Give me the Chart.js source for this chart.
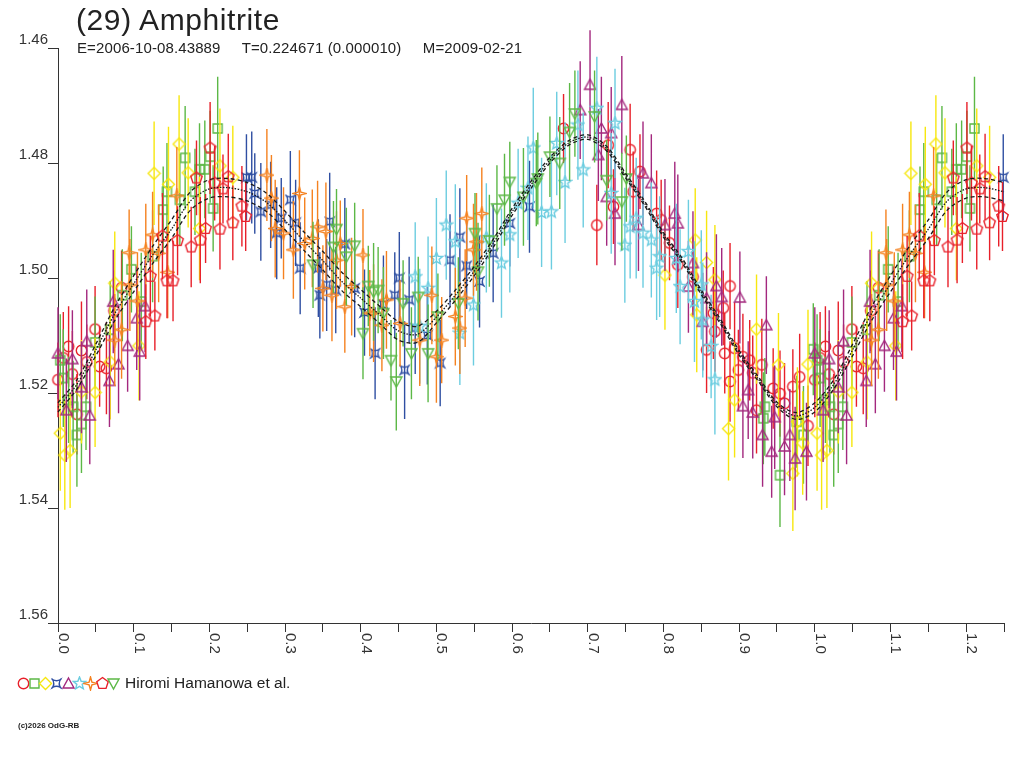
<!DOCTYPE html>
<html>
<head>
<meta charset="utf-8">
<title>(29) Amphitrite</title>
<script src="https://cdn.jsdelivr.net/npm/chart.js@4.4.1/dist/chart.umd.min.js"></script>
<style>
  body { margin: 0; background: #fff; }
  #wrap { position: relative; width: 1024px; height: 768px; overflow: hidden; font-family: "Liberation Sans", Arial, sans-serif; color: #222; }
  #chart { position: absolute; left: 0; top: 0; }
  #title { position: absolute; left: 76px; top: 3px; font-size: 30px; line-height: 34px; letter-spacing: 0.6px; white-space: nowrap; }
  #subtitle { position: absolute; left: 77px; top: 40px; font-size: 15px; line-height: 16px; letter-spacing: 0.12px; white-space: pre; }
  .icon { position: absolute; }
  #legendText { position: absolute; left: 125px; top: 674px; font-size: 15.5px; line-height: 18px; white-space: nowrap; }
  #copy { position: absolute; left: 18px; top: 721px; font-size: 8px; font-weight: bold; white-space: nowrap; }
</style>
</head>
<body>
<div id="wrap">
  <canvas id="chart" width="1024" height="768"></canvas>
  <div id="title">(29) Amphitrite</div>
  <div id="subtitle">E=2006-10-08.43889     T=0.224671 (0.000010)     M=2009-02-21</div>
  <div id="legendText">Hiromi Hamanowa et al.</div>
  <div id="copy">(c)2026 OdG-RB</div>
</div>
<script>
// --- Axes ---
const phaseTicks = [0, 0.05, 0.1, 0.15, 0.2, 0.25, 0.3, 0.35, 0.4, 0.45, 0.5, 0.55, 0.6,
                    0.65, 0.7, 0.75, 0.8, 0.85, 0.9, 0.95, 1.0, 1.05, 1.1, 1.15, 1.2, 1.25];
const phaseLabels = [0, 0.1, 0.2, 0.3, 0.4, 0.5, 0.6, 0.7, 0.8, 0.9, 1.0, 1.1, 1.2];
const magTicks = [1.46, 1.48, 1.50, 1.52, 1.54, 1.56];

// --- Fitted lightcurve (phase 0..1, repeated past 1.0) ---
const fitPhase = [0, 0.025, 0.05, 0.075, 0.1, 0.125, 0.15, 0.175, 0.2, 0.225, 0.25, 0.275, 0.3, 0.325,
                  0.35, 0.375, 0.4, 0.425, 0.45, 0.475, 0.5, 0.525, 0.55, 0.575, 0.6, 0.625, 0.65, 0.675,
                  0.7, 0.725, 0.75, 0.775, 0.8, 0.825, 0.85, 0.875, 0.9, 0.925, 0.95, 0.975];
const fitMag = [1.5225, 1.5185, 1.5125, 1.5062, 1.5010, 1.4960, 1.4915, 1.4866, 1.4845, 1.4843, 1.4850, 1.4868, 1.4900, 1.4936,
                1.4970, 1.5006, 1.5035, 1.5064, 1.5092, 1.5098, 1.5068, 1.5030, 1.4988, 1.4940, 1.4885, 1.4838, 1.4795, 1.4765,
                1.4755, 1.4775, 1.4822, 1.4870, 1.4925, 1.4970, 1.5025, 1.5075, 1.5130, 1.5175, 1.5220, 1.5240];
const fitUpper = [1.5217, 1.5177, 1.5115, 1.5050, 1.4996, 1.4945, 1.4899, 1.4850, 1.4829, 1.4827, 1.4834, 1.4852, 1.4884, 1.4920,
                  1.4954, 1.4990, 1.5020, 1.5049, 1.5076, 1.5084, 1.5058, 1.5021, 1.4980, 1.4933, 1.4879, 1.4832, 1.4790, 1.4761,
                  1.4751, 1.4771, 1.4818, 1.4866, 1.4921, 1.4966, 1.5021, 1.5071, 1.5126, 1.5171, 1.5216, 1.5234];
const fitLower = [1.5233, 1.5193, 1.5135, 1.5074, 1.5024, 1.4975, 1.4931, 1.4882, 1.4861, 1.4859, 1.4866, 1.4884, 1.4916, 1.4952,
                  1.4986, 1.5022, 1.5050, 1.5079, 1.5108, 1.5112, 1.5078, 1.5039, 1.4996, 1.4947, 1.4891, 1.4844, 1.4800, 1.4769,
                  1.4759, 1.4779, 1.4826, 1.4874, 1.4929, 1.4974, 1.5029, 1.5079, 1.5134, 1.5179, 1.5224, 1.5246];

// --- Observations: [phase, magnitude, error] per session ---
const redCircles = [
  [0.000,1.5177,0.0065],[0.007,1.5139,0.0080],[0.014,1.5119,0.0070],[0.019,1.5167,0.0075],[0.025,1.5237,0.0070],
  [0.031,1.5126,0.0085],[0.038,1.5146,0.0065],[0.049,1.5089,0.0075],[0.055,1.5154,0.0070],[0.064,1.5157,0.0080],
  [0.074,1.5057,0.0070],[0.084,1.5017,0.0065],[0.668,1.4740,0.0060],[0.712,1.4908,0.0070],[0.727,1.4769,0.0075],
  [0.734,1.4876,0.0065],[0.756,1.4777,0.0080],[0.760,1.4850,0.0070],[0.769,1.4815,0.0065],[0.791,1.4888,0.0075],
  [0.797,1.4899,0.0070],[0.808,1.4939,0.0065],[0.819,1.4977,0.0075],[0.839,1.4998,0.0070],[0.857,1.5125,0.0075],
  [0.866,1.5061,0.0080],[0.868,1.5093,0.0070],[0.879,1.5052,0.0065],[0.881,1.5131,0.0070],[0.888,1.5014,0.0075],
  [0.888,1.5180,0.0070],[0.894,1.5122,0.0080],[0.899,1.5160,0.0070],[0.905,1.5137,0.0075],[0.914,1.5143,0.0070],
  [0.918,1.5165,0.0065],[0.923,1.5230,0.0075],[0.930,1.5151,0.0080],[0.945,1.5192,0.0070],[0.954,1.5201,0.0075],
  [0.960,1.5218,0.0070],[0.971,1.5189,0.0065],[0.980,1.5172,0.0075],[0.991,1.5257,0.0070]
];
const greenSquares = [
  [0.003,1.5143,0.0080],[0.007,1.5174,0.0085],[0.014,1.5212,0.0075],[0.020,1.5224,0.0080],[0.025,1.5273,0.0090],
  [0.031,1.5254,0.0085],[0.037,1.5224,0.0075],[0.049,1.5112,0.0080],[0.069,1.5090,0.0085],[0.085,1.5030,0.0080],
  [0.097,1.4985,0.0075],[0.110,1.5041,0.0085],[0.125,1.4962,0.0080],[0.139,1.4881,0.0075],[0.144,1.4850,0.0085],
  [0.161,1.4864,0.0080],[0.168,1.4791,0.0090],[0.181,1.4850,0.0075],[0.187,1.4811,0.0080],[0.194,1.4811,0.0085],
  [0.201,1.4789,0.0080],[0.205,1.4879,0.0075],[0.211,1.4740,0.0090],[0.932,1.5244,0.0080],[0.934,1.5224,0.0085],
  [0.954,1.5343,0.0090],[0.976,1.5250,0.0080],[0.985,1.5273,0.0085],[0.998,1.5124,0.0080]
];
const yellowDiamonds = [
  [0.003,1.5270,0.0100],[0.009,1.5308,0.0095],[0.016,1.5300,0.0100],[0.031,1.5198,0.0090],[0.049,1.5199,0.0095],
  [0.069,1.5146,0.0100],[0.075,1.5009,0.0090],[0.107,1.5118,0.0095],[0.127,1.4818,0.0090],[0.146,1.4837,0.0100],
  [0.160,1.4767,0.0085],[0.172,1.4817,0.0095],[0.187,1.4914,0.0090],[0.214,1.4805,0.0100],[0.231,1.4825,0.0090],
  [0.802,1.4995,0.0095],[0.842,1.4934,0.0090],[0.844,1.5064,0.0100],[0.857,1.4973,0.0090],[0.868,1.5003,0.0095],
  [0.886,1.5262,0.0090],[0.894,1.5212,0.0100],[0.923,1.5089,0.0095],[0.952,1.5151,0.0090],[0.971,1.5340,0.0100],
  [0.977,1.5250,0.0095],[0.984,1.5287,0.0090],[0.991,1.5150,0.0095]
];
const blueBowties = [
  [0.249,1.4825,0.0075],[0.256,1.4825,0.0080],[0.260,1.4853,0.0070],[0.268,1.4885,0.0085],[0.281,1.4873,0.0075],
  [0.289,1.4922,0.0080],[0.295,1.4896,0.0070],[0.307,1.4864,0.0085],[0.314,1.4904,0.0075],[0.320,1.4983,0.0080],
  [0.344,1.4983,0.0085],[0.346,1.5030,0.0075],[0.355,1.5012,0.0080],[0.359,1.4902,0.0085],[0.367,1.5021,0.0075],
  [0.379,1.4941,0.0080],[0.392,1.5018,0.0085],[0.405,1.5060,0.0075],[0.419,1.5131,0.0080],[0.430,1.5046,0.0085],
  [0.445,1.5030,0.0075],[0.451,1.5000,0.0080],[0.458,1.5160,0.0085],[0.464,1.5038,0.0075],[0.472,1.5087,0.0080],
  [0.488,1.5100,0.0085],[0.505,1.5148,0.0075],[0.518,1.4969,0.0080],[0.531,1.4929,0.0085],[0.540,1.4979,0.0075],
  [0.557,1.5006,0.0080],[0.575,1.4957,0.0085],[0.597,1.4905,0.0075],[0.623,1.4876,0.0080]
];
const magentaTriangles = [
  [0.000,1.5131,0.0080],[0.011,1.5230,0.0090],[0.019,1.5141,0.0085],[0.031,1.5190,0.0080],[0.038,1.5110,0.0090],
  [0.042,1.5239,0.0085],[0.068,1.5179,0.0080],[0.073,1.5041,0.0090],[0.080,1.5150,0.0085],[0.092,1.5118,0.0080],
  [0.104,1.5070,0.0090],[0.108,1.5128,0.0085],[0.115,1.5049,0.0080],[0.690,1.4708,0.0085],[0.703,1.4664,0.0095],
  [0.714,1.4786,0.0080],[0.718,1.4740,0.0090],[0.725,1.4859,0.0085],[0.731,1.4748,0.0080],[0.736,1.4888,0.0090],
  [0.745,1.4699,0.0085],[0.767,1.4908,0.0080],[0.773,1.4818,0.0090],[0.784,1.4835,0.0085],[0.802,1.4908,0.0080],
  [0.815,1.4888,0.0090],[0.819,1.4905,0.0085],[0.833,1.5015,0.0080],[0.839,1.4974,0.0090],[0.852,1.5076,0.0085],
  [0.857,1.5035,0.0080],[0.870,1.5014,0.0090],[0.877,1.5033,0.0085],[0.901,1.5034,0.0080],[0.905,1.5223,0.0090],
  [0.912,1.5195,0.0085],[0.918,1.5234,0.0080],[0.931,1.5273,0.0090],[0.936,1.5082,0.0085],[0.943,1.5302,0.0080],
  [0.947,1.5242,0.0090],[0.960,1.5293,0.0085],[0.967,1.5273,0.0080],[0.974,1.5314,0.0090],[0.989,1.5302,0.0085]
];
const cyanStars = [
  [0.472,1.4998,0.0095],[0.478,1.5084,0.0100],[0.489,1.5018,0.0090],[0.500,1.4966,0.0105],[0.513,1.4908,0.0095],
  [0.525,1.4937,0.0100],[0.531,1.5096,0.0090],[0.549,1.5047,0.0105],[0.566,1.4930,0.0095],[0.586,1.4974,0.0095],
  [0.597,1.4925,0.0100],[0.608,1.4870,0.0095],[0.621,1.4844,0.0090],[0.628,1.4774,0.0105],[0.639,1.4886,0.0095],
  [0.652,1.4885,0.0100],[0.659,1.4766,0.0090],[0.670,1.4834,0.0105],[0.687,1.4734,0.0095],[0.694,1.4812,0.0100],
  [0.712,1.4705,0.0090],[0.731,1.4853,0.0105],[0.736,1.4731,0.0095],[0.749,1.4943,0.0100],[0.756,1.4911,0.0090],
  [0.764,1.4896,0.0105],[0.773,1.4922,0.0095],[0.784,1.4934,0.0100],[0.791,1.4983,0.0090],[0.795,1.4963,0.0105],
  [0.817,1.4966,0.0095],[0.822,1.5015,0.0100],[0.833,1.4954,0.0090],[0.841,1.5041,0.0105],[0.850,1.5012,0.0095],
  [0.852,1.5073,0.0100],[0.863,1.5119,0.0090],[0.868,1.5177,0.0095]
];
const orangeStars = [
  [0.075,1.5108,0.0080],[0.084,1.5090,0.0085],[0.094,1.4956,0.0075],[0.095,1.5012,0.0080],[0.105,1.5040,0.0085],
  [0.116,1.4951,0.0080],[0.125,1.4925,0.0075],[0.133,1.4957,0.0085],[0.145,1.4990,0.0080],[0.157,1.4857,0.0085],
  [0.276,1.4821,0.0080],[0.282,1.4861,0.0075],[0.287,1.4914,0.0085],[0.298,1.4922,0.0080],[0.311,1.4951,0.0085],
  [0.319,1.4853,0.0075],[0.326,1.4940,0.0080],[0.336,1.4931,0.0085],[0.343,1.4911,0.0080],[0.350,1.5018,0.0075],
  [0.354,1.4919,0.0085],[0.362,1.5030,0.0080],[0.368,1.4969,0.0085],[0.373,1.4940,0.0075],[0.379,1.5050,0.0080],
  [0.388,1.5015,0.0085],[0.403,1.4960,0.0080],[0.412,1.5061,0.0075],[0.417,1.5061,0.0085],[0.428,1.5082,0.0080],
  [0.434,1.5038,0.0085],[0.452,1.5079,0.0075],[0.478,1.5108,0.0080],[0.494,1.5030,0.0085],[0.500,1.5137,0.0080],
  [0.507,1.5108,0.0075],[0.525,1.5067,0.0085],[0.531,1.5087,0.0080],[0.538,1.5035,0.0085],[0.540,1.4896,0.0075],
  [0.549,1.4951,0.0080],[0.553,1.4937,0.0085],[0.560,1.4888,0.0080]
];
const redPentagons = [
  [0.116,1.5076,0.0065],[0.122,1.4997,0.0070],[0.128,1.5066,0.0060],[0.138,1.4927,0.0075],[0.144,1.5005,0.0065],
  [0.152,1.5005,0.0070],[0.158,1.4935,0.0060],[0.176,1.4946,0.0070],[0.183,1.4826,0.0065],[0.188,1.4934,0.0075],
  [0.195,1.4914,0.0060],[0.201,1.4774,0.0080],[0.207,1.4835,0.0065],[0.214,1.4915,0.0070],[0.218,1.4845,0.0060],
  [0.225,1.4824,0.0075],[0.231,1.4904,0.0065],[0.243,1.4875,0.0070],[0.248,1.4893,0.0060]
];
const greenTriangles = [
  [0.337,1.4977,0.0075],[0.364,1.4946,0.0080],[0.368,1.4915,0.0070],[0.381,1.4963,0.0085],[0.392,1.4944,0.0075],
  [0.403,1.5096,0.0080],[0.410,1.5014,0.0070],[0.417,1.5024,0.0085],[0.423,1.5021,0.0075],[0.430,1.5061,0.0080],
  [0.440,1.5143,0.0070],[0.447,1.5180,0.0085],[0.456,1.5044,0.0075],[0.467,1.5131,0.0080],[0.476,1.5033,0.0070],
  [0.489,1.5131,0.0085],[0.502,1.5067,0.0075],[0.529,1.5044,0.0080],[0.551,1.4922,0.0070],[0.555,1.4989,0.0085],
  [0.570,1.4935,0.0080],[0.580,1.4879,0.0075],[0.590,1.4864,0.0080],[0.597,1.4833,0.0070],[0.615,1.4859,0.0085],
  [0.632,1.4835,0.0075],[0.634,1.4827,0.0080],[0.650,1.4789,0.0070],[0.663,1.4800,0.0080],[0.676,1.4746,0.0085],
  [0.683,1.4714,0.0075],[0.709,1.4719,0.0080],[0.725,1.4830,0.0070],[0.745,1.4867,0.0085],[0.751,1.4827,0.0075]
];

const sessions = [redCircles, greenSquares, yellowDiamonds, blueBowties, magentaTriangles,
                  cyanStars, orangeStars, redPentagons, greenTriangles];
const sessionColors = ['#e8202a', '#5cb846', '#f7e70f', '#2f4fa2', '#a3287e',
                       '#6ccde0', '#f58220', '#e8202a', '#5cb846'];
const sessionShapes = ['circle', 'square', 'diamond', 'bowtie', 'triangle',
                       'star', 'star4', 'pentagon', 'invtriangle'];

// --- Marker images (hollow symbols) ---
function makeMarker(shape, color) {
    const c = document.createElement('canvas');
    c.width = 15; c.height = 15;
    const g = c.getContext('2d');
    const cx = 7.5, cy = 7.5;
    g.strokeStyle = color;
    g.lineWidth = 1.4;
    g.beginPath();
    const poly = (n, rOut, rIn) => {
        const steps = rIn ? n * 2 : n;
        for (let i = 0; i < steps; i++) {
            const r = rIn && i % 2 ? rIn : rOut;
            const a = -Math.PI / 2 + i * 2 * Math.PI / steps;
            const px = cx + r * Math.cos(a), py = cy + r * Math.sin(a);
            if (i === 0) g.moveTo(px, py); else g.lineTo(px, py);
        }
        g.closePath();
    };
    switch (shape) {
        case 'circle': g.arc(cx, cy, 5.2, 0, Math.PI * 2); break;
        case 'square': g.rect(3, 3, 9, 9); break;
        case 'diamond': g.moveTo(cx, 1.5); g.lineTo(13.5, cy); g.lineTo(cx, 13.5); g.lineTo(1.5, cy); g.closePath(); break;
        case 'bowtie':
            g.moveTo(3.5, 3.5); g.quadraticCurveTo(cx, 6, 11.5, 3.5);
            g.quadraticCurveTo(9, cy, 11.5, 11.5);
            g.quadraticCurveTo(cx, 9, 3.5, 11.5);
            g.quadraticCurveTo(6, cy, 3.5, 3.5);
            g.moveTo(2.5, 2.5); g.lineTo(4.5, 4.5); g.moveTo(12.5, 2.5); g.lineTo(10.5, 4.5);
            g.moveTo(2.5, 12.5); g.lineTo(4.5, 10.5); g.moveTo(12.5, 12.5); g.lineTo(10.5, 10.5);
            break;
        case 'triangle': g.moveTo(cx, 2); g.lineTo(13, 12); g.lineTo(2, 12); g.closePath(); break;
        case 'star': poly(5, 6.5, 2.8); break;
        case 'star4': poly(4, 6.5, 2); break;
        case 'pentagon': poly(5, 6, 0); break;
        case 'invtriangle': g.moveTo(2, 3); g.lineTo(13, 3); g.lineTo(cx, 13); g.closePath(); break;
    }
    g.stroke();
    return c;
}

// points before phase 0.25 are shown again after 1.0
const withRepeat = pts => pts.concat(pts.filter(p => p[0] <= 0.25).map(p => [p[0] + 1, p[1], p[2]]));

const barData = pts => {
    const out = [];
    withRepeat(pts).forEach(([p, m, e]) => {
        out.push({ x: p, y: m - e }, { x: p, y: m + e }, { x: p, y: null });
    });
    return out;
};
const markData = pts => withRepeat(pts).map(([p, m]) => ({ x: p, y: m }));
const curveData = mags => {
    const d = fitPhase.map((p, i) => ({ x: p, y: mags[i] }));
    fitPhase.forEach((p, i) => { if (p <= 0.25) d.push({ x: p + 1, y: mags[i] }); });
    return d;
};

// --- Datasets ---
const datasets = [];
sessions.forEach((pts, i) => {
    const col = sessionColors[i];
    datasets.push({
        data: barData(pts), showLine: true, spanGaps: false, borderColor: col, borderWidth: 1.4,
        pointRadius: 0, clip: false, order: 100 - 2 * i
    });
    datasets.push({
        data: markData(pts), showLine: false, pointStyle: makeMarker(sessionShapes[i], col),
        pointRadius: 5, clip: false, order: 99 - 2 * i
    });
});
[[fitUpper, [4, 3]], [fitLower, [4, 3]], [fitMag, [1.5, 1.5]]].forEach(([mags, dash]) => {
    datasets.push({
        data: curveData(mags), showLine: true, borderColor: '#1a1a1a', borderWidth: 1.3, borderDash: dash,
        pointRadius: 0, tension: 0.3, clip: false, order: 0
    });
});

const fontFamily = '"Liberation Sans", Arial, sans-serif';

// rotated phase labels, read top to bottom
const phaseLabelPlugin = {
    id: 'phaseLabels',
    afterDraw(chart) {
        const sc = chart.scales.x;
        const ctx = chart.ctx;
        ctx.save();
        ctx.font = '15px ' + fontFamily;
        ctx.fillStyle = '#333';
        ctx.textAlign = 'left';
        ctx.textBaseline = 'alphabetic';
        phaseLabels.forEach(v => {
            ctx.save();
            ctx.translate(sc.getPixelForValue(v) + 1, sc.top + 10);
            ctx.rotate(Math.PI / 2);
            ctx.fillText(v.toFixed(1), 0, 0);
            ctx.restore();
        });
        ctx.restore();
    }
};

new Chart(document.getElementById('chart'), {
    type: 'scatter',
    data: { datasets },
    options: {
        responsive: false,
        animation: false,
        events: [],
        layout: { padding: { left: 0, right: 20, top: 48, bottom: 0 } },
        plugins: { legend: { display: false }, tooltip: { enabled: false } },
        scales: {
            x: {
                type: 'linear', min: 0, max: 1.25,
                afterBuildTicks: s => { s.ticks = phaseTicks.map(v => ({ value: v })); },
                afterFit: s => { s.height = 145; },
                grid: { display: true, drawOnChartArea: false, drawTicks: true, tickLength: 9, color: '#333' },
                border: { display: true, color: '#333', width: 1 },
                ticks: { display: false }
            },
            y: {
                type: 'linear', reverse: true, min: 1.46, max: 1.56,
                afterBuildTicks: s => { s.ticks = magTicks.map(v => ({ value: v })); },
                afterFit: s => { s.width = 58; },
                grid: { display: true, drawOnChartArea: false, drawTicks: true, tickLength: 10, color: '#333' },
                border: { display: true, color: '#333', width: 1 },
                ticks: {
                    padding: 0, labelOffset: -8, color: '#333',
                    font: { family: fontFamily, size: 15 },
                    callback: v => v.toFixed(2)
                }
            }
        }
    },
    plugins: [phaseLabelPlugin]
});

// --- Legend symbols ---
const wrap = document.getElementById('wrap');
sessionShapes.forEach((shape, i) => {
    const icon = makeMarker(shape, sessionColors[i]);
    icon.className = 'icon';
    icon.style.left = (23 + i * 11.3 - 7.5) + 'px';
    icon.style.top = (683 - 7.5) + 'px';
    wrap.appendChild(icon);
});
</script>
</body>
</html>
